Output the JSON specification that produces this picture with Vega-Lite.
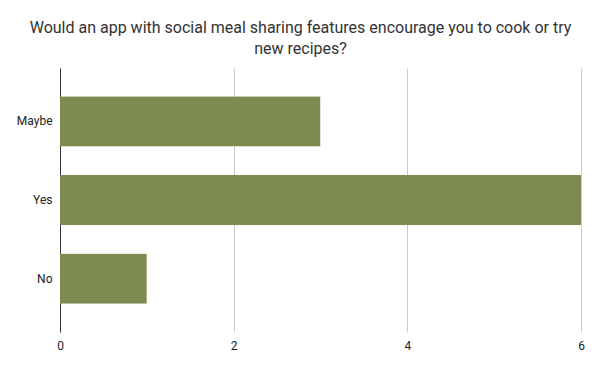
{
  "$schema": "https://vega.github.io/schema/vega-lite/v6.json",
  "width": 521,
  "height": 264,
  "autosize": "none",
  "padding": {"left": 60, "top": 68, "right": 19, "bottom": 39},
  "background": "white",
  "title": {
    "text": ["Would an app with social meal sharing features encourage you to cook or try", "new recipes?"],
    "font": "Roboto",
    "fontSize": 16,
    "fontWeight": "normal",
    "color": "#333333",
    "anchor": "middle",
    "dx": -20,
    "offset": 11,
    "lineHeight": 21
  },
  "data": {
    "values": [
      {"answer": "Maybe", "count": 3},
      {"answer": "Yes", "count": 6},
      {"answer": "No", "count": 1}
    ]
  },
  "mark": {"type": "bar", "color": "#7c8b50", "cornerRadiusEnd": 1},
  "encoding": {
    "y": {
      "field": "answer",
      "type": "nominal",
      "sort": ["Maybe", "Yes", "No"],
      "scale": {"paddingInner": 0.36, "paddingOuter": 0.36},
      "axis": {
        "title": null,
        "domainColor": "#333333",
        "ticks": false,
        "labelFont": "Roboto",
        "labelFontSize": 12,
        "labelColor": "#222222",
        "labelPadding": 8
      }
    },
    "x": {
      "field": "count",
      "type": "quantitative",
      "scale": {"domain": [0, 6], "nice": false},
      "axis": {
        "title": null,
        "values": [0, 2, 4, 6],
        "domain": false,
        "ticks": false,
        "gridColor": "#cccccc",
        "labelFont": "Roboto",
        "labelFontSize": 12,
        "labelColor": "#222222",
        "labelPadding": 8,
        "labelFlush": false
      }
    }
  },
  "config": {"view": {"stroke": null}}
}
